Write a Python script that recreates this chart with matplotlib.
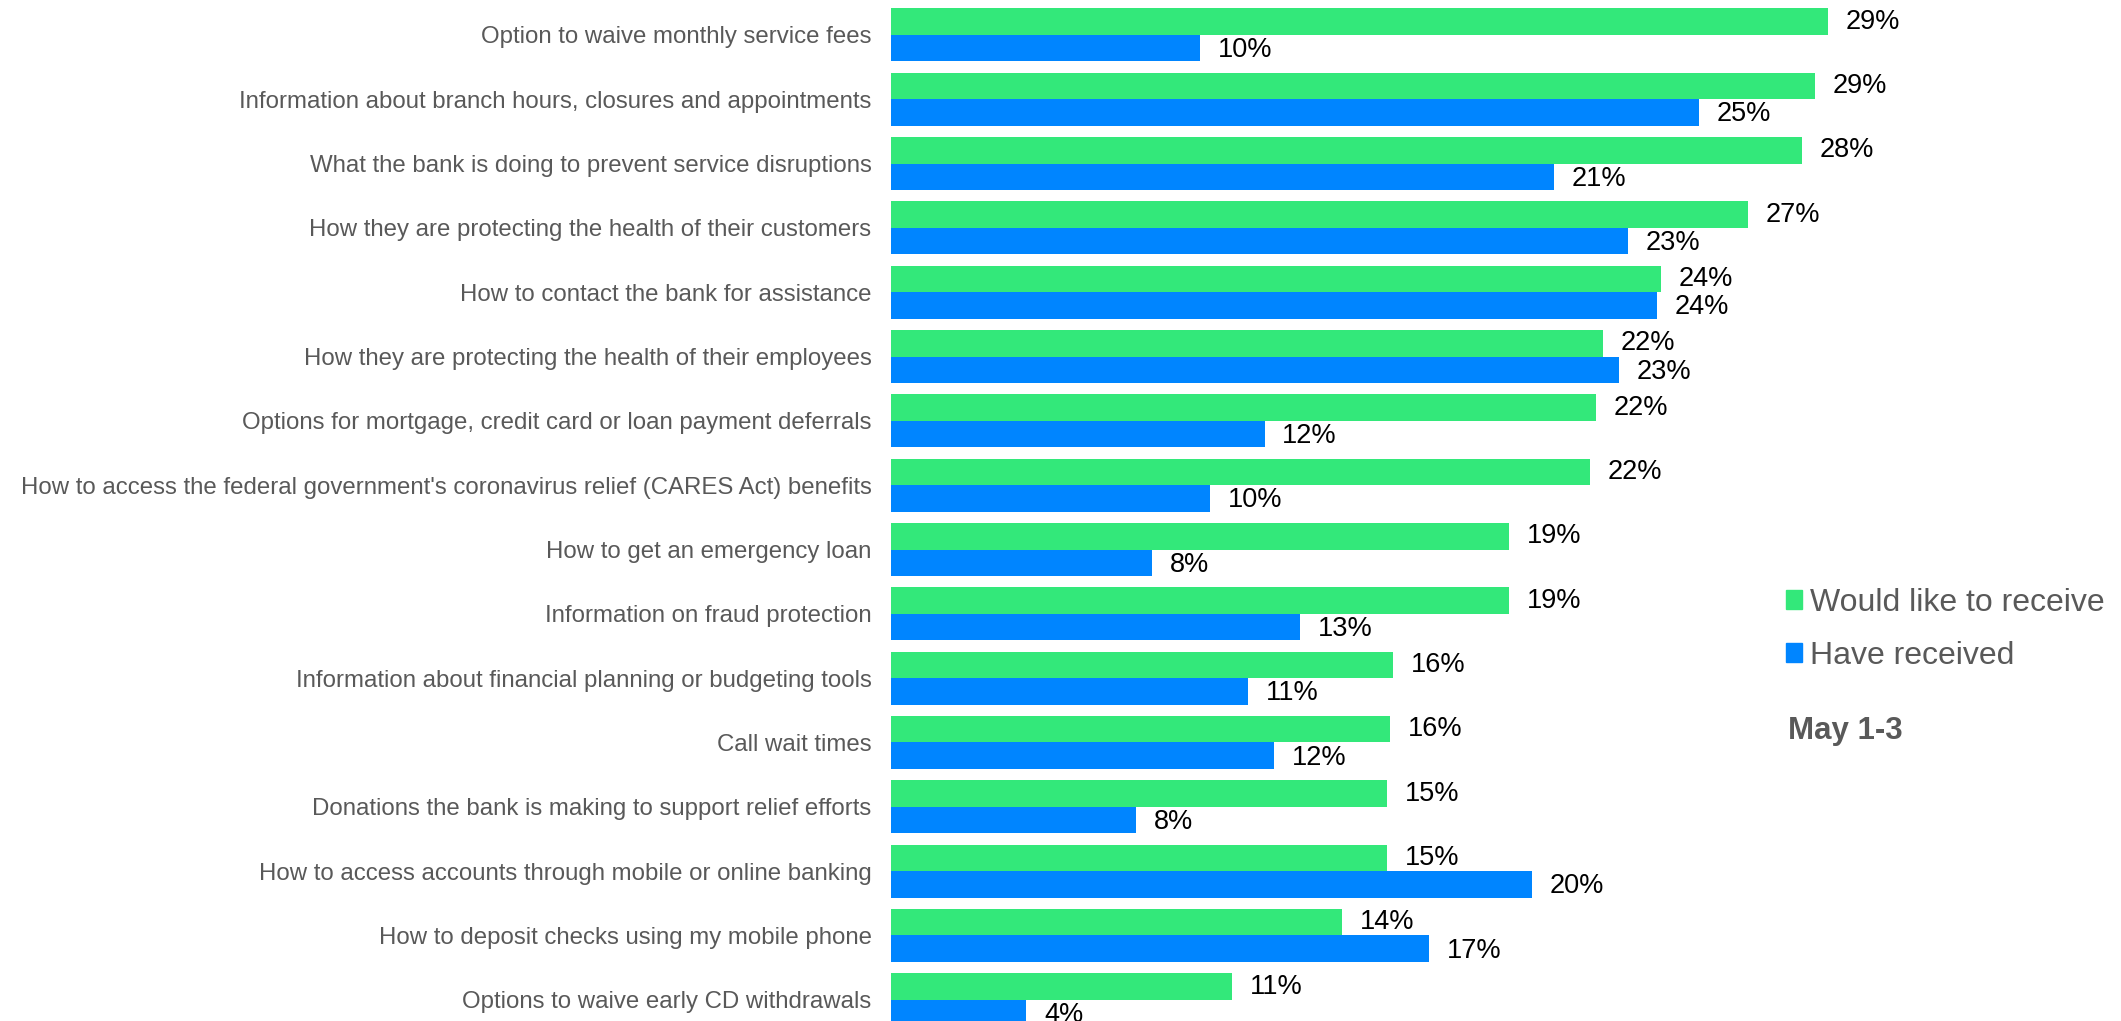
import matplotlib
matplotlib.use("Agg")
import matplotlib.pyplot as plt
from matplotlib.patches import Patch
import numpy as np

plt.rcParams['font.family'] = ['Liberation Sans', 'DejaVu Sans']

# categories, top to bottom
categories = [
    "Option to waive monthly service fees",
    "Information about branch hours, closures and appointments",
    "What the bank is doing to prevent service disruptions",
    "How they are protecting the health of their customers",
    "How to contact the bank for assistance",
    "How they are protecting the health of their employees",
    "Options for mortgage, credit card or loan payment deferrals",
    "How to access the federal government's coronavirus relief (CARES Act) benefits",
    "How to get an emergency loan",
    "Information on fraud protection",
    "Information about financial planning or budgeting tools",
    "Call wait times",
    "Donations the bank is making to support relief efforts",
    "How to access accounts through mobile or online banking",
    "How to deposit checks using my mobile phone",
    "Options to waive early CD withdrawals",
]

would_like = [29.1, 28.7, 28.3, 26.6, 23.9, 22.1, 21.9, 21.7,
              19.2, 19.2, 15.6, 15.5, 15.4, 15.4, 14.0, 10.6]
have_received = [9.6, 25.1, 20.6, 22.9, 23.8, 22.6, 11.6, 9.9,
                 8.1, 12.7, 11.1, 11.9, 7.6, 19.9, 16.7, 4.2]

green = "#33E87A"
blue = "#0085FF"
gray = "#595959"

fig = plt.figure(figsize=(21.21, 10.21), dpi=100)
ax = fig.add_axes([891 / 2121, 0, 966 / 2121, 1])

y = np.arange(len(categories))
h = 0.412
ax.barh(y - h / 2, would_like, height=h, color=green)
ax.barh(y + h / 2, have_received, height=h, color=blue)

for yi, v in zip(y, would_like):
    ax.text(v + 0.55, yi - h / 2, f"{v:.0f}%", va="center", ha="left",
            fontsize=19.5, color="black")
for yi, v in zip(y, have_received):
    ax.text(v + 0.55, yi + h / 2 + 0.03, f"{v:.0f}%", va="center", ha="left",
            fontsize=19.5, color="black")

ax.set_xlim(0, 30)
ax.set_ylim(15.33, -0.544)
ax.set_yticks(y)
ax.set_yticklabels(categories, fontsize=17.3, color=gray)
ax.tick_params(axis="y", length=0, pad=14)
ax.set_xticks([])
for s in ax.spines.values():
    s.set_visible(False)

handles = [Patch(color=green, label="Would like to receive"),
           Patch(color=blue, label="Have received")]
fig.legend(handles=handles, loc="upper left", bbox_to_anchor=(1773 / 2121, 1 - 575 / 1021),
           frameon=False, fontsize=23, handlelength=0.5, handleheight=0.5,
           handletextpad=0.25, labelspacing=0.72, labelcolor=gray, borderaxespad=0)
fig.text(1788 / 2121, 1 - 731 / 1021, "May 1-3", fontsize=22.5, fontweight="bold",
         color=gray, va="center", ha="left")

fig.savefig("out.png", dpi=100)
